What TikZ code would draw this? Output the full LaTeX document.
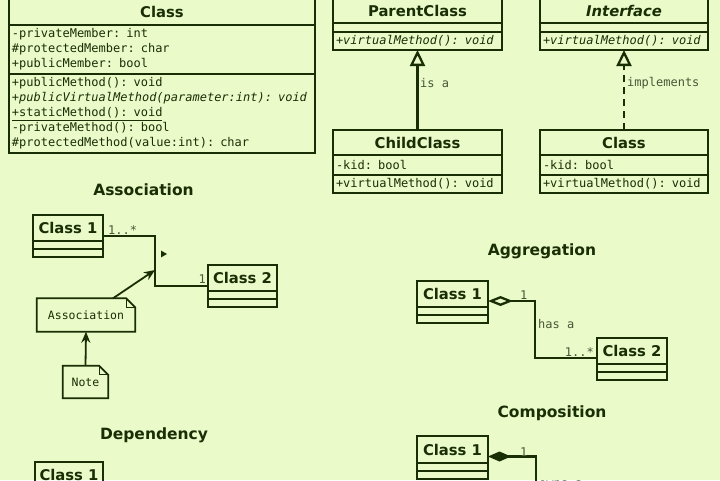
\documentclass[tikz,border=0pt]{standalone}
\usepackage{fontspec}
\setmainfont{DejaVu Sans}
\setmonofont{DejaVu Sans Mono}
\usetikzlibrary{arrows.meta, positioning, shapes.geometric}

\definecolor{umlbg}{RGB}{234,250,200}
\definecolor{umlink}{RGB}{26,46,6}

\newcommand{\namefont}{\fontsize{14.8}{17}\selectfont\bfseries}
\newcommand{\headfont}{\fontsize{15.5}{18}\selectfont\bfseries}
\newcommand{\memfont}{\fontsize{12}{15}\selectfont\ttfamily}
\newcommand{\lblfont}{\fontsize{12}{14}\selectfont\ttfamily}
\newcommand{\notefont}{\fontsize{11.5}{14}\selectfont\ttfamily}

\begin{document}
\begin{tikzpicture}[x=1pt, y=-1pt,
    every node/.style={text=umlink},
    umlname/.style={draw=umlink, line width=2pt, outer sep=0pt, inner sep=0pt, minimum width=#1, minimum height=26pt, font=\namefont},
    umlpart/.style={draw=umlink, line width=2pt, outer sep=0pt, inner xsep=3pt, inner ysep=0pt, text width=#1, align=left, font=\memfont},
    umlempty/.style={draw=umlink, line width=2pt, outer sep=0pt, inner sep=0pt, minimum width=#1, minimum height=8pt},
    heading/.style={font=\headfont},
    mult/.style={font=\lblfont, text=umlink!80, inner sep=0pt},
    notebox/.style={font=\notefont, inner sep=0pt, minimum width=#1, minimum height=33pt},
    notefold/.style={draw=umlink, line width=1.8pt, line join=miter},
    dirmark/.style={isosceles triangle, isosceles triangle apex angle=60, fill=umlink, inner sep=0pt, minimum size=6pt},
    link/.style={draw=umlink, line width=2.3pt},
    inherit/.style={link, -{Triangle[open, length=16pt, width=15pt]}},
    realize/.style={inherit, dash pattern=on 7pt off 5pt},
    notelink/.style={draw=umlink, line width=1.8pt, -{Stealth[length=11pt, width=9pt]}}
]
\path[use as bounding box, fill=umlbg] (0,0) rectangle (720,480);

% full class
\node[umlname=306, minimum height=27pt, anchor=north west] (clsname) at (9,-2) {Class};
\node[umlpart=300, minimum height=49pt, below=0pt of clsname] (clsattr) {-privateMember: int\\\#protectedMember: char\\+publicMember: bool};
\node[umlpart=300, minimum height=79pt, below=0pt of clsattr] (clsops) {+publicMethod(): void\\\textit{+publicVirtualMethod(parameter:int): void}\\\underline{+staticMethod(): void}\\-privateMethod(): bool\\\#protectedMethod(value:int): char};

% generalization
\node[umlname=169, minimum height=25pt, anchor=north west] (parentname) at (333,-2) {ParentClass};
\node[umlempty=169, minimum height=9pt, below=0pt of parentname] (parentattr) {};
\node[umlpart=163, minimum height=18pt, below=0pt of parentattr] (parentops) {\textit{+virtualMethod(): void}};
\node[umlname=169, minimum height=25pt, anchor=north west] (childname) at (333,130) {ChildClass};
\node[umlpart=163, minimum height=20pt, below=0pt of childname] (childattr) {-kid: bool};
\node[umlpart=163, minimum height=18pt, below=0pt of childattr] (childops) {+virtualMethod(): void};

% realization
\node[umlname=168, minimum height=25pt, anchor=north west, font=\namefont\itshape] (ifacename) at (540,-2) {Interface};
\node[umlempty=168, minimum height=9pt, below=0pt of ifacename] (ifaceattr) {};
\node[umlpart=162, minimum height=18pt, below=0pt of ifaceattr] (ifaceops) {\textit{+virtualMethod(): void}};
\node[umlname=168, minimum height=25pt, anchor=north west] (implname) at (540,130) {Class};
\node[umlpart=162, minimum height=20pt, below=0pt of implname] (implattr) {-kid: bool};
\node[umlpart=162, minimum height=18pt, below=0pt of implattr] (implops) {+virtualMethod(): void};

\draw[inherit] (childname.north) -- (parentops.south);
\draw[realize] (implname.north) -- (ifaceops.south);
\node[mult, anchor=west] (isalbl) at (420,83) {is a};
\node[mult, anchor=west] (impllbl) at (627,83) {implements};

% association
\node[heading] (assoctitle) at (143.5,190) {Association};
\node[umlname=70, anchor=north west] (assoca) at (33,215) {Class 1};
\node[umlempty=70, below=0pt of assoca] (assoca2) {};
\node[umlempty=70, below=0pt of assoca2] (assoca3) {};
\node[umlname=69, anchor=north west] (assocb) at (208,265) {Class 2};
\node[umlempty=69, below=0pt of assocb] (assocb2) {};
\node[umlempty=69, below=0pt of assocb2] (assocb3) {};
\coordinate (assocmid) at (155,270);
\draw[link] ([yshift=-8pt]assoca.east) -| (assocmid) |- ([yshift=-8pt]assocb.west);
\node[mult, anchor=west] (assocm1) at (108,230) {1..*};
\node[mult, anchor=east] (assocm2) at (206,279) {1};
\node[dirmark] (assocdir) at (163,254) {};

\node[notebox=98] (assocnote) at (86,315) {Association};
\draw[notefold] (assocnote.south west) -- (assocnote.north west) -- ([xshift=-9pt]assocnote.north east)
  -- ([yshift=-9pt]assocnote.north east) -- (assocnote.south east) -- cycle;
\draw[umlink, line width=0.8pt] ([xshift=-9pt]assocnote.north east) |- ([yshift=-9pt]assocnote.north east);
\node[notebox=45, minimum height=32pt] (notenote) at (85.5,382) {Note};
\draw[notefold] (notenote.south west) -- (notenote.north west) -- ([xshift=-9pt]notenote.north east)
  -- ([yshift=-9pt]notenote.north east) -- (notenote.south east) -- cycle;
\draw[umlink, line width=0.8pt] ([xshift=-9pt]notenote.north east) |- ([yshift=-9pt]notenote.north east);
\draw[notelink] ([xshift=27pt]assocnote.north) -- (assocmid);
\draw[notelink] (notenote.north) -- (assocnote.south);

% aggregation
\node[heading] (aggtitle) at (542,251) {Aggregation};
\node[umlname=71, anchor=north west] (agga) at (417,281) {Class 1};
\node[umlempty=71, below=0pt of agga] (agga2) {};
\node[umlempty=71, below=0pt of agga2] (agga3) {};
\node[umlname=70, anchor=north west] (aggb) at (597,338) {Class 2};
\node[umlempty=70, below=0pt of aggb] (aggb2) {};
\node[umlempty=70, below=0pt of aggb2] (aggb3) {};
\coordinate (aggmid) at (535,330);
\draw[link, {Diamond[open, length=25pt, width=10pt]}-] ([yshift=-7pt]agga.east) -| (aggmid) |- ([yshift=-7pt]aggb.west);
\node[mult, anchor=west] (aggm1) at (520,295) {1};
\node[mult, anchor=west] (agglbl) at (538,324) {has a};
\node[mult, anchor=east] (aggm2) at (594,352) {1..*};

% composition
\node[heading] (comptitle) at (552,413) {Composition};
\node[umlname=71, minimum height=27pt, anchor=north west] (compa) at (417,436) {Class 1};
\node[umlempty=71, below=0pt of compa] (compa2) {};
\node[umlempty=71, below=0pt of compa2] (compa3) {};
\coordinate (compend) at (536,500);
\draw[link, {Diamond[length=23pt, width=10pt]}-] ([yshift=-7pt]compa.east) -| (compend);
\node[mult, anchor=west] (compm1) at (520,452) {1};
\node[mult, anchor=west] (complbl) at (539,484) {owns a};

% dependency
\node[heading] (deptitle) at (154,435) {Dependency};
\node[umlname=68, anchor=north west] (depa) at (35,462) {Class 1};
\node[umlempty=68, below=0pt of depa] (depa2) {};
\node[umlempty=68, below=0pt of depa2] (depa3) {};

\end{tikzpicture}
\end{document}
